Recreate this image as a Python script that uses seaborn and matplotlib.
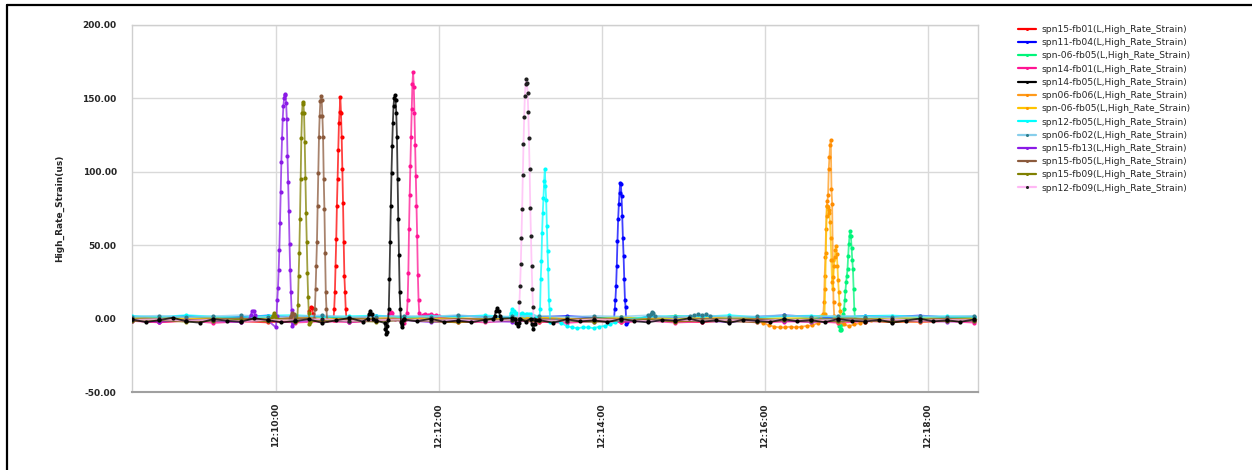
import pandas as pd
import matplotlib
matplotlib.use("Agg")
import matplotlib.pyplot as plt
import matplotlib.dates as mdates
from matplotlib.lines import Line2D
from matplotlib.ticker import FormatStrFormatter, MultipleLocator
import seaborn as sns

DAY = "2024-01-01 "

series_names = [
    "spn15-fb01(L,High_Rate_Strain)", "spn11-fb04(L,High_Rate_Strain)",
    "spn-06-fb05(L,High_Rate_Strain)", "spn14-fb01(L,High_Rate_Strain)",
    "spn14-fb05(L,High_Rate_Strain)", "spn06-fb06(L,High_Rate_Strain)",
    "spn-06-fb05(L,High_Rate_Strain) ", "spn12-fb05(L,High_Rate_Strain)",
    "spn06-fb02(L,High_Rate_Strain)", "spn15-fb13(L,High_Rate_Strain)",
    "spn15-fb05(L,High_Rate_Strain)", "spn15-fb09(L,High_Rate_Strain)",
    "spn12-fb09(L,High_Rate_Strain)",
]
line_colors = ["#FF0000", "#0000FF", "#00F57A", "#FF1493", "#000000", "#FF9A1A",
               "#FFC400", "#00FFFF", "#87CEEB", "#8A1AE6", "#8B5A3C", "#808000", "#FFB8F5"]
marker_colors = ["#FF0000", "#0000FF", "#00F57A", "#FF1493", "#000000", "#FF8C00",
                 "#FF9A00", "#00FFFF", "#2E7D8C", "#8A1AE6", "#8B5A3C", "#808000", "#202020"]

# baseline samples from 12:08:14, step in seconds given per series
base_start = "12:08:14"
base_red = [-1.2, -2.4, -1.5, -0.6, -1.8, -2.6, -1.0, -1.6, -2.3, -1.3, -0.7, -1.7, -2.5, -1.4, -1.1, -2.2,
            -1.5, -0.5, -2.3, -1.2, -1.6, -2.4, -1.3, -0.8, -1.5, -2.2, -1.1, -1.4, -2.5, -1.6, -0.9, -1.3]
base_blue = [1.4, 0.6, 1.8, 0.4, 1.1, 2.1, 0.7, 1.3, 0.5, 1.6, 1.0, 0.3, 1.9, 1.2, 0.6, 1.1,
             1.8, 0.7, 0.4, 1.5, 1.0, 2.0, 0.6, 1.2, 2.2, 1.4, 0.5, 1.8, 1.1, 2.1, 0.8, 1.2]
base_green = [0.5, -0.6, 0.9, 0.1, -0.4, 0.7, -0.9, 0.2, 0.6, -0.5, 0.0, 1.0, -0.7, 0.4, -0.2, 0.8,
              -0.6, 0.3, 0.9, -0.3, 0.1, -0.9, 0.6, 0.0, -0.5, 0.7, -1.0, 0.2, 0.5, -0.6, 0.9, 0.1]
base_pink = [-1.6, -2.6, -1.3, -2.9, -2.0, -1.5, -2.7, -1.9, -2.4, -1.4, -2.8, -2.0, -1.6, -2.6, -1.2, -2.2,
             -2.9, -1.8, -2.4, -1.5, -2.7, -2.0, -1.4, -2.6, -2.1, -1.7, -2.8, -2.0, -1.5, -2.4, -1.8, -2.7]
base_black = [-0.5, -2.4, -1.1, 0.6, -1.9, -2.8, -0.3, -1.5, -2.2, 0.2,
              -1.0, -2.6, -1.7, -0.4, -2.9, -1.2, 0.4, -2.0, -1.4, -2.7,
              -0.6, -1.8, -0.1, -2.3, -1.3, -2.5, -0.8, -1.6, 0.3, -2.1,
              -1.0, -2.8, -0.5, -1.9, -1.2, -2.4, -0.2, -1.7, -2.6, -0.9,
              -1.4, 0.1, -2.2, -1.1, -2.9, -0.7, -1.6, -2.3, -0.4, -1.8,
              -1.0, -2.5, -0.3, -1.5, -2.0, -0.8, -2.7, -1.3, 0.0, -1.9,
              -1.1, -2.2, -0.6]
base_orange = [-0.3, -1.0, 0.4, -0.6, -1.3, 0.0, -0.4, -1.1, 0.5, -0.5, -0.2, -0.9, 0.2, -0.6, -0.3, 0.6,
               -0.3, -1.0, 0.3, -0.4, 2.0, -0.1, -0.5, -0.7, -0.2, -0.6, -2.0, -2.6, -1.8, -2.4, -1.5, -0.9]
base_gold = [0.1, 0.7, -0.5, 0.5, 0.0, -0.7, 0.8, 0.2, -0.3, 0.4, 0.9, -0.1, 0.5, -0.6, 0.2, 0.7,
             0.0, -0.4, 0.8, 0.1, -0.3, 0.5, 1.0, -0.1, 0.4, 0.0, 0.6, -0.5, 0.2, 0.8, -0.3, 0.3]
base_cyan = [1.8, 1.1, 2.3, 1.4, 0.8, 2.0, 2.4, 1.2, 1.6, 2.1, 0.9, 1.8, 1.3, 2.2, 1.0, 1.6,
             2.0, 0.8, 2.1, 1.3, 1.8, 1.4, 2.3, 1.0, 1.6, 2.0, 1.1, 1.8, 2.1, 1.2, 1.6, 1.4]
base_teal = [1.3, 2.0, 0.9, 1.6, 2.3, 1.1, 1.7, 2.2, 1.0, 1.4, 1.9, 1.3, 2.4, 0.9, 1.5, 2.0,
             1.1, 1.8, 1.4, 2.2, 1.0, 1.9, 1.3, 1.5, 2.3, 1.2, 2.0, 1.4, 0.9, 1.8, 1.3, 1.9]
base_purple = [-1.3, -2.1, -0.9, -1.6, -2.3, -1.2, -1.8, -0.8, -2.0, -1.5, -1.1, -2.4, -1.3, -1.7, -2.2, -1.0,
               -1.5, -2.0, -1.2, -1.8, -0.9, -1.6, -2.3, -1.1, -1.4, -2.2, -1.5, -1.0, -1.9, -1.3, -2.0, -1.5]
base_brown = [-0.5, -0.1, -1.1, -0.4, 0.2, -0.8, -0.3, -1.0, 0.0, -0.6, -0.4, -1.2, -0.1, -0.5, -1.0, -0.3,
              -0.7, 0.3, -0.8, -0.4, -1.1, -0.1, -0.5, -0.3, -1.0, -0.6, 0.0, -0.4, -0.9, -0.5, -0.1, -0.7]
base_olive = [-1.7, -1.0, -2.2, -1.4, -0.8, -1.9, -2.4, -1.2, -1.5, -2.1, -1.0, -1.7, -2.6, -1.3, -1.1, -1.9,
              -1.5, -2.2, -1.2, -0.9, -2.0, -1.4, -1.7, -2.4, -1.1, -1.5, -1.9, -1.2, -2.3, -1.0, -1.7, -1.4]
base_palepink = [-1.0, -0.4, -1.5, -0.7, -1.8, -0.9, -1.2, -0.3, -1.6, -1.0, -0.6, -1.4, -0.8, -1.9, -0.7, -1.2,
                 -1.5, -0.5, -1.0, -1.7, -0.7, -1.3, -0.9, -1.8, -0.6, -1.2, -1.0, -1.5, -0.5, -1.3, -0.9, -1.1]

# events: (start clock, step in s, values)
ev_red = [("12:10:23.5", 1.0, [0, 5, 8, 7, 3, 0]),
          ("12:10:42.4", 0.5, [-1, 6.5, 17.8, 36, 54, 77, 95, 115, 133.5, 141, 151, 140, 124, 102, 79, 52,
                               29, 18, 6.5, 0])]
ev_blue = [("12:14:09.0", 0.5, [0, 6.5, 13, 22, 36, 53, 67.7, 77.9, 85.8, 92.6, 91.5, 83.6, 70, 55, 42.8,
                                27, 13, 7.6, -4, -2])]
ev_green = [("12:16:54.4", 0.5, [-2, -5, -7.5, -8, -7, -4, -1, 3, 6.5, 13, 19, 24.6, 29, 33.7, 42.8, 50.7,
                                 56.4, 59.8, 56.4, 48.4, 40, 33.7, 20, 6.5, 0])]
ev_pink = [("12:11:22.5", 1.0, [0, 3, 4.5, 3.5, 1, 0]),
           ("12:11:36.0", 0.5, [0, 4, 13, 31, 61, 84, 104, 124, 142.5, 160, 168, 158, 140, 118, 97, 77, 56,
                                30, 13, 4, 0]),
           ("12:11:46.0", 2.0, [1.5, 2.5, 3, 2.5, 3, 2, 2.5, 1.5])]
ev_black = [("12:11:07.5", 1.0, [0, 3, 5.5, 3, 0]),
            ("12:11:20.1", 0.5, [-3, -7, -10.5, -9, -5, -1, 6.5, 27, 52, 77, 99.5, 117.6, 133.5, 145, 150.5,
                                 152, 149, 140, 124, 95, 68, 43, 18, 6.5, -2, -6, -4, -1]),
            ("12:12:40.0", 1.0, [0, 2, 5, 7, 5, 2, 0]),
            ("12:12:56.0", 1.0, [0, -3, -5, -3, 0]),
            ("12:13:07.5", 1.0, [0, -4, -7, -4, -1])]
ev_orange = [("12:15:55.0", 4.0, [-1, -3, -4.5, -5.5, -6, -6, -5.5, -6, -5.5, -5, -4.5, -3]),
             ("12:16:43.1", 0.5, [3, 11, 29, 42, 61, 77, 80, 84, 102, 110, 118, 121.7, 88, 78, 40, 11, 2]),
             ("12:16:58.0", 4.0, [-4, -5, -4, -3, -2, -1])]
ev_gold = [("12:16:44.0", 0.5, [3, 20, 45, 70, 77, 76, 74, 72, 66, 55, 40, 25, 20, 28, 36, 42, 47, 49.5,
                                44, 36, 26, 18, 10, 5, 1])]
ev_cyan = [("12:12:52.0", 1.0, [1, 4, 6.5, 5, 3, 3.5, 3, 2.5, 3, 3.5, 3, 2.5, 3, 3, 3, 2.5, 3, 2, 1.5, 1, 0.5]),
           ("12:13:14.0", 0.5, [0, 6.5, 27, 39, 58.6, 72, 82, 93.7, 102, 90, 81, 63, 46, 33.7, 13, 6.5, -2]),
           ("12:13:26.0", 4.0, [-1, -3, -5, -6, -6.5, -6, -6, -6.5, -5.5, -5, -4, -2.5, -1])]
ev_teal = [("12:14:35.0", 1.0, [1.5, 3, 4.5, 3.5, 1.5]),
           ("12:15:05.0", 3.0, [1.5, 2.5, 3, 2.5, 3, 2])]
ev_purple = [("12:09:40.5", 1.0, [0, 2.5, 5, 5.5, 2.5, -0.5]),
             ("12:10:00.0", 0.5, [-6, 2, 13, 21, 33, 47, 65, 86, 107, 123, 136, 145, 150, 153, 152, 147, 136,
                                  111, 93, 73, 51, 33, 18, 6, -5, -3])]
ev_brown = [("12:10:10.0", 1.0, [0, 2, 4, 3, 0]),
            ("12:10:28.2", 0.5, [0, 6.5, 20, 36, 52, 77, 99.5, 124, 138, 148, 151.6, 149, 138, 124, 95, 74.5,
                                 45, 18, 6.5, -1])]
ev_olive = [("12:09:56.5", 1.0, [0, 2, 3.5, 2, 0]),
            ("12:10:15.7", 0.5, [-1, 9, 29, 45, 68, 95, 123, 140, 147.5, 146, 140, 120, 96, 72, 52, 31, 15,
                                 4, -4, -2])]
ev_palepink = [("12:12:58.8", 0.5, [0, 11, 22, 37, 55, 74.5, 98, 118.7, 137, 151.6, 159.6, 163.4, 160.7, 154,
                                    141, 123, 101.7, 75.6, 56, 36, 20, 7.6, 0])]

baselines = [(20, base_red), (20, base_blue), (20, base_green), (20, base_pink), (10, base_black),
             (20, base_orange), (20, base_gold), (20, base_cyan), (20, base_teal), (20, base_purple),
             (20, base_brown), (20, base_olive), (20, base_palepink)]
events = [ev_red, ev_blue, ev_green, ev_pink, ev_black, ev_orange, ev_gold,
          ev_cyan, ev_teal, ev_purple, ev_brown, ev_olive, ev_palepink]


def build_series(base_step, base, evs):
    t0 = pd.Timestamp(DAY + base_start)
    bt = [t0 + pd.Timedelta(seconds=base_step * i) for i in range(len(base))]
    pts = []
    spans = []
    for start, step, vals in evs:
        s = pd.Timestamp(DAY + start)
        ts = [s + pd.Timedelta(seconds=step * i) for i in range(len(vals))]
        spans.append((ts[0], ts[-1]))
        pts += list(zip(ts, vals))
    for t, v in zip(bt, base):
        if not any(a <= t <= b for a, b in spans):
            pts.append((t, v))
    return pd.DataFrame(pts, columns=["time", "value"]).sort_values("time")


sns.set_style("white")
plt.rcParams["font.family"] = ["DejaVu Sans"]

fig = plt.figure(figsize=(12.52, 4.70), dpi=100)
ax = fig.add_axes([132 / 1252, 1 - 392 / 470, (978 - 132) / 1252, (392 - 25) / 470])

handles = []
for name, lc, mc, (bstep, base), evs in zip(series_names, line_colors, marker_colors, baselines, events):
    df = build_series(bstep, base, evs)
    sns.lineplot(data=df, x="time", y="value", ax=ax, color=lc, marker="o", markersize=3.0,
                 mfc=mc, mec=mc, markeredgewidth=0, linewidth=1.3, estimator=None,
                 zorder=4 if lc == "#000000" else 3)
    ln = ax.lines[-1]
    ln.set_color(matplotlib.colors.to_rgba(lc, 0.75))
    handles.append(Line2D([0], [0], color=lc, lw=1.6, marker="o", markersize=2.2,
                          mfc=mc, mec=mc, markeredgewidth=0))

ax.set_xlim(pd.Timestamp(DAY + "12:08:14"), pd.Timestamp(DAY + "12:18:37"))
ax.set_ylim(-50, 200)
ax.yaxis.set_major_locator(MultipleLocator(50))
ax.yaxis.set_major_formatter(FormatStrFormatter("%.2f"))
ax.xaxis.set_major_locator(mdates.MinuteLocator(byminute=[10, 12, 14, 16, 18]))
ax.xaxis.set_major_formatter(mdates.DateFormatter("%H:%M:%S"))

ax.grid(True, color="#D9D9D9", lw=1)
ax.set_axisbelow(True)
ax.tick_params(axis="y", direction="out", length=9, width=1.2, color="#222222",
               labelsize=6.5, pad=2)
ax.tick_params(axis="x", direction="out", length=4, width=1, color="#666666",
               labelsize=6.5, pad=4, labelrotation=90)
for lab in ax.get_xticklabels() + ax.get_yticklabels():
    lab.set_fontweight("bold")
fig.canvas.draw()
ax.yaxis.get_gridlines()[0].set_visible(False)

ax.set_xlabel("")
ax.set_ylabel("High_Rate_Strain(us)", fontsize=6.5, fontweight="bold", labelpad=13)

for side in ["left", "right", "top"]:
    ax.spines[side].set_color("#CFCFCF")
    ax.spines[side].set_linewidth(1)
ax.spines["bottom"].set_color("#A0A0A0")
ax.spines["bottom"].set_linewidth(1.5)
ax.spines["bottom"].set_linestyle((0, (2, 1)))

fig.legend(handles, [n.strip() for n in series_names], loc="upper left",
           bbox_to_anchor=(1018 / 1252, 1 - 25 / 470), frameon=False, fontsize=6.6,
           labelspacing=0.46, handlelength=2.0, handletextpad=0.6, borderaxespad=0, borderpad=0)

# outer frame (left and top edges)
fig.add_artist(Line2D([7 / 1252, 7 / 1252], [0, 1 - 5 / 470], transform=fig.transFigure,
                      color="black", lw=1.6))
fig.add_artist(Line2D([7 / 1252, 1], [1 - 5 / 470, 1 - 5 / 470], transform=fig.transFigure,
                      color="black", lw=1.6))

fig.savefig("out.png", dpi=100)
